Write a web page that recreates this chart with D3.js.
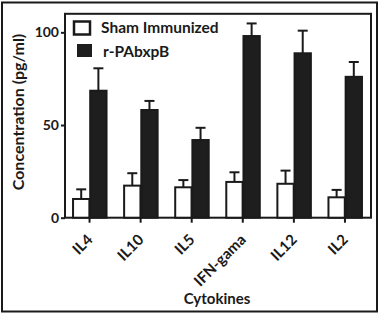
<!DOCTYPE html>
<html><head><meta charset="utf-8">
<script src="https://cdn.jsdelivr.net/npm/d3@7"></script>
<style>body{margin:0;background:#fff}svg{display:block}text{font-family:Lato,"Open Sans",sans-serif;font-weight:bold;fill:#1a1a1a}</style>
</head><body>
<script>
const categories = ["IL4","IL10","IL5","IFN-gama","IL12","IL2"];
const seriesNames = ["Sham Immunized","r-PAbxpB"];
const shamValues = [10.1, 17.3, 16.4, 19.3, 18.3, 11.0];
const shamErrors = [5.2, 6.7, 3.9, 5.2, 7.1, 4.0];
const pabValues = [68.5, 58.1, 41.9, 98.0, 88.7, 76.0];
const pabErrors = [12.1, 4.9, 6.6, 6.8, 12.2, 8.0];
const yTicks = [0, 50, 100];

const W = 383, H = 317;
const svg = d3.select("body").append("svg").attr("width", W).attr("height", H);

// outer frame
svg.append("rect").attr("x", 2).attr("y", 2.5).attr("width", 375).attr("height", 309)
  .attr("fill", "none").attr("stroke", "#1a1a1a").attr("stroke-width", 2);

const x0 = d3.scaleBand().domain(categories).range([64, 370.5]);
const x1 = d3.scaleBand().domain(seriesNames).range([-16.5, 17]).paddingInner(0.05);
const y = d3.scaleLinear().domain([0, 110]).range([217.7, 13.8]);

const fills = ["#ffffff", "#1e1e1e"];
const vals = [shamValues, pabValues];
const errs = [shamErrors, pabErrors];

// plot box
svg.append("rect").attr("x", 65).attr("y", y(110)).attr("width", 306).attr("height", y(0) - y(110))
  .attr("fill", "none").attr("stroke", "#1a1a1a").attr("stroke-width", 2);

const data = [];
categories.forEach((c, i) => seriesNames.forEach((s, j) => data.push({c, s, j, v: vals[j][i], e: errs[j][i]})));

const g = svg.append("g");
data.forEach(d => {
  const cx = x0(d.c) + x0.bandwidth() / 2;
  const bx = cx + x1(d.s);
  const bw = x1.bandwidth();
  const mid = bx + bw / 2;
  g.append("line").attr("x1", mid).attr("x2", mid).attr("y1", y(d.v)).attr("y2", y(d.v + d.e))
    .attr("stroke", "#1a1a1a").attr("stroke-width", 2);
  g.append("line").attr("x1", mid - 5).attr("x2", mid + 5).attr("y1", y(d.v + d.e)).attr("y2", y(d.v + d.e))
    .attr("stroke", "#1a1a1a").attr("stroke-width", 2);
  g.append("rect").attr("x", bx).attr("y", y(d.v)).attr("width", bw).attr("height", y(0) - y(d.v))
    .attr("fill", fills[d.j]).attr("stroke", "#1a1a1a").attr("stroke-width", 2);
});

// y axis
const yAxis = svg.append("g").attr("transform", "translate(65,0)")
  .call(d3.axisLeft(y).tickValues(yTicks).tickSize(4).tickPadding(2));
yAxis.select(".domain").remove();
yAxis.selectAll("line").attr("stroke", "#1a1a1a").attr("stroke-width", 2);
yAxis.selectAll("text").style("font-size", "14px").style("font-family", "Lato").style("font-weight", "bold").attr("fill", "#1a1a1a");

// x axis
const xAxis = svg.append("g").attr("transform", `translate(0,${y(0)})`)
  .call(d3.axisBottom(x0).tickSize(5).tickPadding(4));
xAxis.select(".domain").remove();
xAxis.selectAll("line").attr("stroke", "#1a1a1a").attr("stroke-width", 2);
xAxis.selectAll("text").style("font-size", "15px").style("font-family", "Lato").style("font-weight", "bold").attr("fill", "#1a1a1a")
  .attr("text-anchor", "end").attr("y", 0).attr("dy", 0)
  .attr("transform", "translate(4,23) rotate(-45)");

// axis titles
svg.append("text").attr("x", 217).attr("y", 304).attr("text-anchor", "middle").style("font-size", "15px").text("Cytokines");
svg.append("text").attr("transform", "translate(24,112) rotate(-90)").attr("text-anchor", "middle").style("font-size", "16px").text("Concentration (pg/ml)");

// legend
const leg = svg.append("g");
leg.append("rect").attr("x", 74).attr("y", 21.5).attr("width", 16).attr("height", 13).attr("fill", "#fff").attr("stroke", "#1a1a1a").attr("stroke-width", 2.5);
leg.append("text").attr("x", 101).attr("y", 33).style("font-size", "15.5px").text(seriesNames[0]);
leg.append("rect").attr("x", 77).attr("y", 44).attr("width", 15).attr("height", 13).attr("fill", "#1e1e1e");
leg.append("text").attr("x", 103).attr("y", 56.5).style("font-size", "15.5px").text(seriesNames[1]);
</script>
</body></html>
